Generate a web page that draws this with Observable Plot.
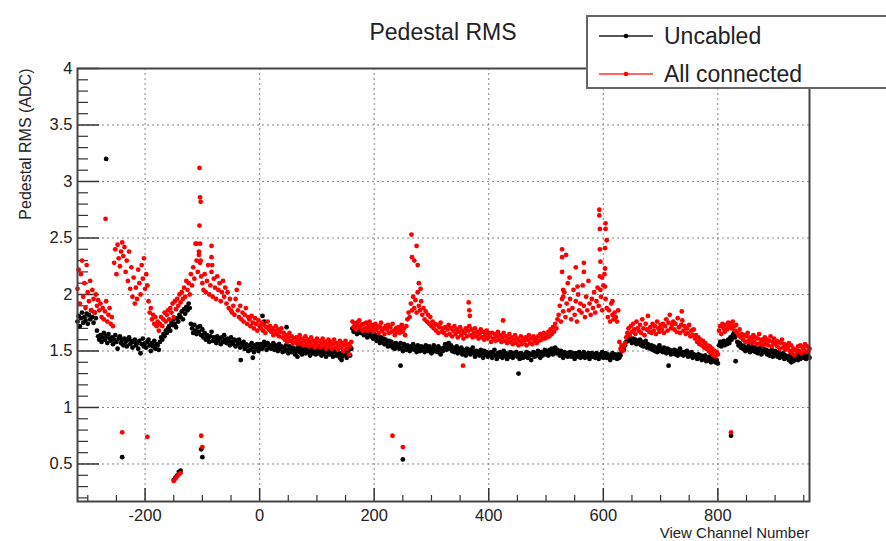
<!DOCTYPE html>
<html>
<head>
<meta charset="utf-8">
<script src="https://cdn.jsdelivr.net/npm/d3@7"></script>
<script src="https://cdn.jsdelivr.net/npm/@observablehq/plot@0.6"></script>
<style>
  html, body { margin: 0; padding: 0; background: #fff; }
  #wrap { position: relative; width: 886px; height: 541px; overflow: hidden; font-family: "Liberation Sans", Arial, sans-serif; }
  #title { position: absolute; left: 0; width: 886px; top: 19px; text-align: center; font-size: 23px; color: #222; }
  #legend { position: absolute; left: 586px; top: 15px; width: 330px; height: 74px; background: #fff; border: 2px solid #666; box-sizing: border-box; }
  .entry { position: absolute; left: 10px; height: 30px; display: flex; align-items: center; font-size: 23px; color: #222; }
  .entry svg { margin-right: 10px; }
</style>
</head>
<body>
<div id="wrap">
  <div id="chart"></div>
  <div id="title">Pedestal RMS</div>
  <div id="legend">
    <div class="entry" style="top:4px"><svg width="56" height="10"><line x1="1" x2="55" y1="5" y2="5" stroke="#555" stroke-width="2"/><circle cx="28" cy="5" r="2.3" fill="#000"/></svg>Uncabled</div>
    <div class="entry" style="top:42px"><svg width="56" height="10"><line x1="1" x2="55" y1="5" y2="5" stroke="#f33" stroke-width="1.5"/><circle cx="28" cy="5" r="2.3" fill="#f00"/></svg>All connected</div>
  </div>
</div>
<script>
// Channel grid: first channel and step of the sampled channels
const chStart = -318;
const chStep = 2;

// Pedestal RMS (ADC), Uncabled, sampled channels -318 .. 960 (10 per row = 20 channels)
const uncabled = [
  1.76, 1.81, 1.72, 1.79, 1.84, 1.75, 1.80, 1.77, 1.83, 1.74,
  1.82, 1.78, 1.86, 1.80, 1.75, 1.84, 1.79, 1.68, 1.63, 1.60,
  1.64, 1.58, 1.62, 1.66, 1.60, 1.63, 1.57, 1.65, 1.61, 1.59,
  1.62, 1.56, 1.60, 1.64, 1.58, 1.52, 1.61, 1.63, 1.57, 1.60,
  1.55, 1.61, 1.58, 1.54, 1.60, 1.62, 1.56, 1.59, 1.53, 1.58,
  1.60, 1.55, 1.57, 1.52, 1.59, 1.48, 1.56, 1.61, 1.54, 1.57,
  1.53, 1.58, 1.60, 1.55, 1.50, 1.57, 1.54, 1.59, 1.52, 1.56,
  1.55, 1.51, 1.58, 1.62, 1.60, 1.65, 1.63, 1.68, 1.66, 1.70,
  1.72, 1.68, 1.75, 1.73, 1.78, 1.74, 1.71, 1.79, 1.76, 1.82,
  1.80, 1.85, 1.78, 1.87, 1.83, 1.89, 1.86, 1.92, 1.88, 1.74,
  1.70, 1.66, 1.73, 1.68, 1.65, 1.71, 1.67, 1.72, 1.64, 1.69,
  1.62, 1.66, 1.60, 1.64, 1.61, 1.58, 1.63, 1.67, 1.59, 1.62,
  1.60, 1.57, 1.63, 1.59, 1.61, 1.56, 1.62, 1.58, 1.64, 1.60,
  1.57, 1.61, 1.59, 1.55, 1.62, 1.58, 1.56, 1.60, 1.54, 1.59,
  1.56, 1.60, 1.53, 1.57, 1.55, 1.58, 1.52, 1.56, 1.54, 1.50,
  1.55, 1.51, 1.57, 1.53, 1.49, 1.55, 1.52, 1.56, 1.50, 1.53,
  1.56, 1.52, 1.54, 1.58, 1.55, 1.51, 1.57, 1.53, 1.55, 1.52,
  1.54, 1.57, 1.51, 1.55, 1.53, 1.50, 1.56, 1.52, 1.54, 1.49,
  1.53, 1.50, 1.55, 1.51, 1.48, 1.54, 1.52, 1.49, 1.53, 1.50,
  1.47, 1.52, 1.50, 1.54, 1.49, 1.51, 1.47, 1.53, 1.50, 1.48,
  1.52, 1.49, 1.51, 1.46, 1.50, 1.53, 1.48, 1.51, 1.47, 1.50,
  1.48, 1.52, 1.49, 1.46, 1.51, 1.48, 1.50, 1.45, 1.49, 1.52,
  1.47, 1.50, 1.48, 1.45, 1.51, 1.49, 1.46, 1.50, 1.47, 1.44,
  1.48, 1.45, 1.50, 1.47, 1.49, 1.44, 1.48, 1.51, 1.46, 1.52,
  1.70, 1.67, 1.72, 1.68, 1.65, 1.71, 1.69, 1.66, 1.73, 1.68,
  1.64, 1.69, 1.66, 1.62, 1.68, 1.65, 1.63, 1.67, 1.61, 1.65,
  1.62, 1.59, 1.64, 1.60, 1.57, 1.62, 1.58, 1.61, 1.56, 1.60,
  1.57, 1.54, 1.59, 1.55, 1.58, 1.53, 1.56, 1.52, 1.57, 1.54,
  1.55, 1.52, 1.57, 1.53, 1.50, 1.56, 1.54, 1.51, 1.55, 1.53,
  1.50, 1.54, 1.52, 1.56, 1.51, 1.53, 1.49, 1.55, 1.52, 1.50,
  1.54, 1.51, 1.53, 1.49, 1.55, 1.52, 1.50, 1.54, 1.51, 1.48,
  1.52, 1.55, 1.50, 1.53, 1.49, 1.54, 1.51, 1.47, 1.52, 1.50,
  1.53, 1.56, 1.51, 1.54, 1.57, 1.52, 1.55, 1.50, 1.53, 1.49,
  1.51, 1.54, 1.48, 1.52, 1.50, 1.53, 1.47, 1.51, 1.49, 1.46,
  1.52, 1.49, 1.51, 1.47, 1.50, 1.53, 1.48, 1.45, 1.50, 1.47,
  1.49, 1.46, 1.51, 1.48, 1.44, 1.50, 1.47, 1.49, 1.45, 1.48,
  1.46, 1.49, 1.44, 1.48, 1.51, 1.46, 1.43, 1.48, 1.45, 1.49,
  1.47, 1.44, 1.50, 1.46, 1.48, 1.43, 1.47, 1.45, 1.49, 1.46,
  1.44, 1.48, 1.46, 1.49, 1.45, 1.47, 1.43, 1.48, 1.46, 1.44,
  1.47, 1.45, 1.49, 1.44, 1.48, 1.46, 1.42, 1.47, 1.49, 1.45,
  1.48, 1.46, 1.50, 1.47, 1.44, 1.49, 1.46, 1.48, 1.51, 1.47,
  1.49, 1.46, 1.51, 1.48, 1.52, 1.47, 1.50, 1.53, 1.48, 1.51,
  1.49, 1.46, 1.50, 1.47, 1.44, 1.49, 1.46, 1.48, 1.45, 1.47,
  1.49, 1.45, 1.48, 1.46, 1.43, 1.48, 1.45, 1.47, 1.49, 1.44,
  1.47, 1.45, 1.49, 1.44, 1.47, 1.45, 1.48, 1.43, 1.46, 1.48,
  1.45, 1.47, 1.44, 1.48, 1.46, 1.43, 1.47, 1.45, 1.49, 1.44,
  1.46, 1.48, 1.44, 1.47, 1.45, 1.42, 1.46, 1.48, 1.44, 1.47,
  1.45, 1.43, 1.47, 1.44, 1.46, 1.50, 1.53, 1.51, 1.55, 1.58,
  1.62, 1.59, 1.63, 1.60, 1.57, 1.61, 1.58, 1.60, 1.56, 1.59,
  1.57, 1.60, 1.55, 1.58, 1.54, 1.57, 1.59, 1.53, 1.56, 1.54,
  1.52, 1.55, 1.51, 1.54, 1.50, 1.53, 1.49, 1.52, 1.55, 1.50,
  1.52, 1.49, 1.53, 1.50, 1.48, 1.52, 1.49, 1.51, 1.47, 1.50,
  1.48, 1.51, 1.47, 1.50, 1.46, 1.49, 1.52, 1.47, 1.49, 1.46,
  1.49, 1.47, 1.50, 1.45, 1.48, 1.46, 1.49, 1.44, 1.47, 1.45,
  1.46, 1.43, 1.47, 1.44, 1.46, 1.42, 1.45, 1.43, 1.46, 1.41,
  1.44, 1.42, 1.45, 1.40, 1.43, 1.41, 1.44, 1.40, 1.42, 1.39,
  1.55, 1.58, 1.54, 1.57, 1.59, 1.55, 1.58, 1.56, 1.60, 1.57,
  1.62, 1.60, 1.64, 1.66, 1.62, 1.65, 1.58, 1.55, 1.57, 1.53,
  1.55, 1.52, 1.54, 1.50, 1.53, 1.51, 1.55, 1.49, 1.52, 1.54,
  1.50, 1.53, 1.49, 1.52, 1.48, 1.51, 1.53, 1.47, 1.50, 1.52,
  1.49, 1.51, 1.47, 1.50, 1.46, 1.49, 1.51, 1.45, 1.48, 1.50,
  1.47, 1.45, 1.49, 1.44, 1.47, 1.45, 1.48, 1.43, 1.46, 1.44,
  1.45, 1.42, 1.46, 1.40, 1.44, 1.41, 1.45, 1.43, 1.47, 1.42,
  1.46, 1.43, 1.45, 1.48, 1.44, 1.46, 1.43, 1.47, 1.45, 1.44
];

// Pedestal RMS (ADC), All connected, same sampled channels
const allConnected = [
  2.05, 2.22, 1.92, 2.18, 2.30, 1.98, 2.10, 1.88, 2.26, 2.02,
  1.94, 2.12, 1.86, 2.04, 1.96, 1.84, 2.00, 1.90, 1.95, 1.86,
  1.92, 1.80, 1.88, 1.78, 1.85, 1.94, 1.76, 1.82, 1.88, 1.74,
  1.80, 1.72, 2.28, 2.40, 2.18, 2.44, 2.32, 2.25, 2.38, 2.46,
  2.34, 2.42, 2.20, 2.30, 2.12, 2.38, 2.05, 2.24, 1.98, 2.15,
  1.92, 2.06, 1.96, 2.22, 2.10, 2.00, 2.26, 2.14, 2.32, 2.05,
  2.18, 2.08, 1.94, 1.84, 1.88, 1.78, 1.82, 1.74, 1.80, 1.72,
  1.76, 1.68, 1.74, 1.80, 1.72, 1.78, 1.84, 1.76, 1.82, 1.86,
  1.78, 1.88, 1.84, 1.92, 1.80, 1.94, 1.87, 1.96, 1.90, 2.00,
  1.93, 2.02, 1.96, 2.06, 1.98, 2.12, 2.04, 2.10, 2.00, 2.18,
  2.08, 2.24, 2.14, 2.45, 2.30, 2.20, 2.38, 2.28, 2.16, 2.10,
  2.04, 2.18, 2.02, 2.12, 2.26, 2.00, 2.08, 2.20, 1.98, 2.14,
  2.06, 1.96, 2.16, 2.04, 2.10, 1.94, 2.02, 2.12, 1.98, 2.06,
  1.92, 2.02, 1.88, 1.96, 1.86, 1.84, 1.90, 1.82, 1.96, 2.04,
  1.86, 1.80, 1.90, 1.78, 1.84, 1.76, 1.82, 1.88, 1.74, 1.80,
  1.78, 1.72, 1.81, 1.75, 1.70, 1.79, 1.74, 1.68, 1.77, 1.72,
  1.70, 1.75, 1.68, 1.73, 1.66, 1.71, 1.76, 1.69, 1.72, 1.67,
  1.70, 1.64, 1.68, 1.72, 1.65, 1.69, 1.63, 1.67, 1.70, 1.62,
  1.66, 1.60, 1.64, 1.58, 1.62, 1.66, 1.59, 1.63, 1.57, 1.61,
  1.58, 1.62, 1.56, 1.60, 1.64, 1.57, 1.61, 1.55, 1.59, 1.63,
  1.56, 1.60, 1.54, 1.58, 1.62, 1.55, 1.59, 1.53, 1.57, 1.61,
  1.55, 1.59, 1.53, 1.57, 1.61, 1.54, 1.58, 1.52, 1.56, 1.60,
  1.54, 1.58, 1.52, 1.56, 1.60, 1.53, 1.57, 1.51, 1.55, 1.59,
  1.53, 1.57, 1.50, 1.55, 1.59, 1.52, 1.56, 1.47, 1.54, 1.58,
  1.76, 1.71, 1.74, 1.69, 1.75, 1.72, 1.77, 1.70, 1.73, 1.68,
  1.74, 1.70, 1.75, 1.68, 1.72, 1.76, 1.69, 1.73, 1.67, 1.71,
  1.74, 1.69, 1.72, 1.66, 1.71, 1.75, 1.68, 1.70, 1.65, 1.72,
  1.69, 1.73, 1.66, 1.71, 1.67, 1.74, 1.68, 1.64, 1.70, 1.67,
  1.71, 1.66, 1.69, 1.73, 1.67, 1.70, 1.64, 1.72, 1.78, 1.84,
  1.80, 1.92, 1.86, 1.98, 1.88, 1.95, 1.84, 2.02, 1.90, 1.86,
  1.94, 1.82, 1.88, 1.78, 1.85, 1.76, 1.82, 1.74, 1.80, 1.72,
  1.76, 1.70, 1.74, 1.68, 1.73, 1.66, 1.71, 1.75, 1.67, 1.70,
  1.66, 1.71, 1.64, 1.69, 1.73, 1.65, 1.70, 1.63, 1.68, 1.72,
  1.65, 1.69, 1.62, 1.67, 1.71, 1.64, 1.68, 1.61, 1.66, 1.70,
  1.63, 1.68, 1.72, 1.64, 1.69, 1.62, 1.66, 1.70, 1.63, 1.67,
  1.61, 1.65, 1.69, 1.62, 1.67, 1.60, 1.64, 1.68, 1.61, 1.66,
  1.63, 1.58, 1.66, 1.61, 1.65, 1.59, 1.63, 1.67, 1.60, 1.64,
  1.58, 1.62, 1.66, 1.59, 1.63, 1.57, 1.61, 1.65, 1.58, 1.62,
  1.56, 1.60, 1.64, 1.57, 1.61, 1.55, 1.59, 1.63, 1.56, 1.60,
  1.58, 1.62, 1.55, 1.60, 1.64, 1.57, 1.61, 1.56, 1.63, 1.59,
  1.61, 1.57, 1.63, 1.59, 1.65, 1.60, 1.62, 1.66, 1.61, 1.64,
  1.62, 1.67, 1.63, 1.69, 1.65, 1.71, 1.67, 1.74, 1.70, 1.78,
  1.82, 1.90, 1.76, 1.96, 1.85, 2.02, 1.80, 1.92, 2.10, 1.86,
  1.96, 1.78, 1.88, 2.04, 1.82, 1.94, 1.76, 2.00, 1.86, 1.92,
  1.84, 2.08, 1.90, 1.80, 1.98, 1.86, 2.12, 1.92, 1.82, 1.96,
  1.88, 2.02, 1.84, 1.94, 2.06, 1.90, 2.16, 1.98, 1.86, 2.08,
  2.18, 1.96, 1.88, 1.80, 1.86, 1.76, 1.92, 1.82, 1.78, 1.84,
  1.80, 1.76, 1.86, 1.58, 1.52, 1.55, 1.50, 1.54, 1.57, 1.62,
  1.66, 1.70, 1.64, 1.72, 1.67, 1.74, 1.69, 1.65, 1.76, 1.70,
  1.68, 1.73, 1.66, 1.78, 1.70, 1.64, 1.74, 1.69, 1.81, 1.67,
  1.71, 1.66, 1.74, 1.68, 1.72, 1.65, 1.76, 1.70, 1.67, 1.73,
  1.69, 1.74, 1.66, 1.72, 1.78, 1.68, 1.75, 1.82, 1.70, 1.73,
  1.76, 1.69, 1.74, 1.67, 1.79, 1.71, 1.66, 1.73, 1.77, 1.68,
  1.72, 1.65, 1.70, 1.66, 1.73, 1.63, 1.68, 1.64, 1.69, 1.61,
  1.64, 1.58, 1.62, 1.56, 1.60, 1.55, 1.59, 1.53, 1.57, 1.52,
  1.55, 1.50, 1.54, 1.48, 1.52, 1.46, 1.50, 1.45, 1.49, 1.47,
  1.68, 1.72, 1.65, 1.74, 1.70, 1.67, 1.73, 1.69, 1.75, 1.71,
  1.74, 1.70, 1.76, 1.72, 1.68, 1.73, 1.66, 1.64, 1.69, 1.62,
  1.65, 1.60, 1.64, 1.58, 1.63, 1.66, 1.59, 1.62, 1.57, 1.61,
  1.64, 1.58, 1.62, 1.56, 1.61, 1.65, 1.57, 1.60, 1.55, 1.59,
  1.62, 1.56, 1.60, 1.55, 1.59, 1.63, 1.54, 1.58, 1.61, 1.56,
  1.59, 1.54, 1.58, 1.52, 1.57, 1.60, 1.53, 1.56, 1.51, 1.55,
  1.53, 1.57, 1.50, 1.55, 1.48, 1.52, 1.46, 1.51, 1.49, 1.54,
  1.50, 1.55, 1.48, 1.53, 1.51, 1.56, 1.49, 1.54, 1.50, 1.52
];

// Additional individual channels (outliers, dead channels, spikes)
const uncabledExtraCh  = [-268, -240, -150, -147, -144, -141, -138, -102, -100, -33, -12, 5, 8, 47, 66, 143, 246, 250, 452, 714, 823, 831];
const uncabledExtraVal = [3.20, 0.56, 0.36, 0.38, 0.40, 0.43, 0.44, 0.63, 0.56, 1.42, 1.44, 1.81, 1.76, 1.71, 1.45, 1.42, 1.37, 0.54, 1.30, 1.37, 0.75, 1.41];

const connectedExtraCh  = [-269, -240, -196, -150, -147, -144, -141, -138, -105, -104, -103, -105, -110, -104, -106, -103, -102, -100, -84, -84, -83, -36,
  232, 250, 265, 274, 266, 270, 276, 278, 281, 355, 365, 366, 367, 425,
  528, 528, 528, 530, 530, 552, 566, 566, 555, 535, 541,
  593, 593, 594, 604, 604, 606, 594, 603, 595, 603, 598, 595, 603, 616, 737, 823];
const connectedExtraVal = [2.67, 0.78, 0.74, 0.35, 0.37, 0.39, 0.41, 0.42, 3.12, 2.86, 2.82, 2.61, 2.45, 2.45, 2.35, 2.30, 0.75, 0.65, 2.43, 2.33, 2.26, 2.10,
  0.75, 0.65, 2.53, 2.43, 2.33, 2.30, 2.26, 2.10, 2.05, 1.37, 1.93, 1.86, 1.81, 1.77,
  2.40, 2.33, 2.20, 2.04, 1.98, 2.24, 2.28, 2.20, 2.07, 2.35, 2.15,
  2.75, 2.70, 2.58, 2.63, 2.58, 2.48, 2.40, 2.41, 2.29, 2.23, 2.15, 2.04, 2.07, 1.94, 1.85, 0.78];

// Axis ticks
const xMajor = [-200, 0, 200, 400, 600, 800];
const xMinor = [-300, -250, -150, -100, -50, 50, 100, 150, 250, 300, 350, 450, 500, 550, 650, 700, 750, 850, 900, 950];
const yMajor = [0.5, 1, 1.5, 2, 2.5, 3, 3.5, 4];
const yMinor = [0.2, 0.3, 0.4, 0.6, 0.7, 0.8, 0.9, 1.1, 1.2, 1.3, 1.4, 1.6, 1.7, 1.8, 1.9, 2.1, 2.2, 2.3, 2.4, 2.6, 2.7, 2.8, 2.9, 3.1, 3.2, 3.3, 3.4, 3.6, 3.7, 3.8, 3.9];

const unc = uncabled.map((v, i) => ({ch: chStart + i * chStep, v}))
  .concat(uncabledExtraCh.map((c, i) => ({ch: c, v: uncabledExtraVal[i]})));
const con = allConnected.map((v, i) => ({ch: chStart + i * chStep, v}))
  .concat(connectedExtraCh.map((c, i) => ({ch: c, v: connectedExtraVal[i]})));

const W = 886, H = 541, mL = 77, mR = 77, mT = 68, mB = 40;
const fw = W - mL - mR, fh = H - mT - mB;

const chart = Plot.plot({
  width: W, height: H,
  marginLeft: mL, marginRight: mR, marginTop: mT, marginBottom: mB,
  style: {fontFamily: "'Liberation Sans', Arial, sans-serif", background: "#fff", color: "#222"},
  x: {domain: [-318, 960]},
  y: {domain: [0.168, 4]},
  marks: [
    Plot.gridX(xMajor, {stroke: "#777", strokeOpacity: 0.9, strokeDasharray: "2,3", strokeWidth: 1}),
    Plot.gridY(yMajor, {stroke: "#777", strokeOpacity: 0.9, strokeDasharray: "2,3", strokeWidth: 1}),
    Plot.tickX(xMajor, {x: d => d, insetTop: fh - 13, stroke: "#333", strokeWidth: 1.5}),
    Plot.tickX(xMinor, {x: d => d, insetTop: fh - 6, stroke: "#333", strokeWidth: 1.2}),
    Plot.tickY(yMajor, {y: d => d, insetRight: fw - 22, stroke: "#333", strokeWidth: 1.5}),
    Plot.tickY(yMinor, {y: d => d, insetRight: fw - 11, stroke: "#333", strokeWidth: 1.2}),
    Plot.axisX(xMajor, {tickSize: 0, tickPadding: 8, fontSize: 16.5, tickFormat: d => String(d), label: null}),
    Plot.axisY(yMajor, {tickSize: 0, tickPadding: 5, fontSize: 16.5, tickFormat: d => String(d), label: null}),
    Plot.dot(unc, {x: "ch", y: "v", r: 2.4, fill: "#000", stroke: "none"}),
    Plot.dot(con, {x: "ch", y: "v", r: 2.4, fill: "#f00", stroke: "none"}),
    Plot.frame({stroke: "#444", strokeWidth: 2}),
    Plot.text(["View Channel Number"], {frameAnchor: "bottom-right", textAnchor: "end", lineAnchor: "middle", dy: 32, fontSize: 15, fill: "#222"}),
    Plot.text(["Pedestal RMS (ADC)"], {frameAnchor: "top-left", textAnchor: "end", lineAnchor: "middle", rotate: -90, dx: -52, fontSize: 16, fill: "#222"})
  ]
});
document.getElementById("chart").appendChild(chart);
</script>
</body>
</html>
